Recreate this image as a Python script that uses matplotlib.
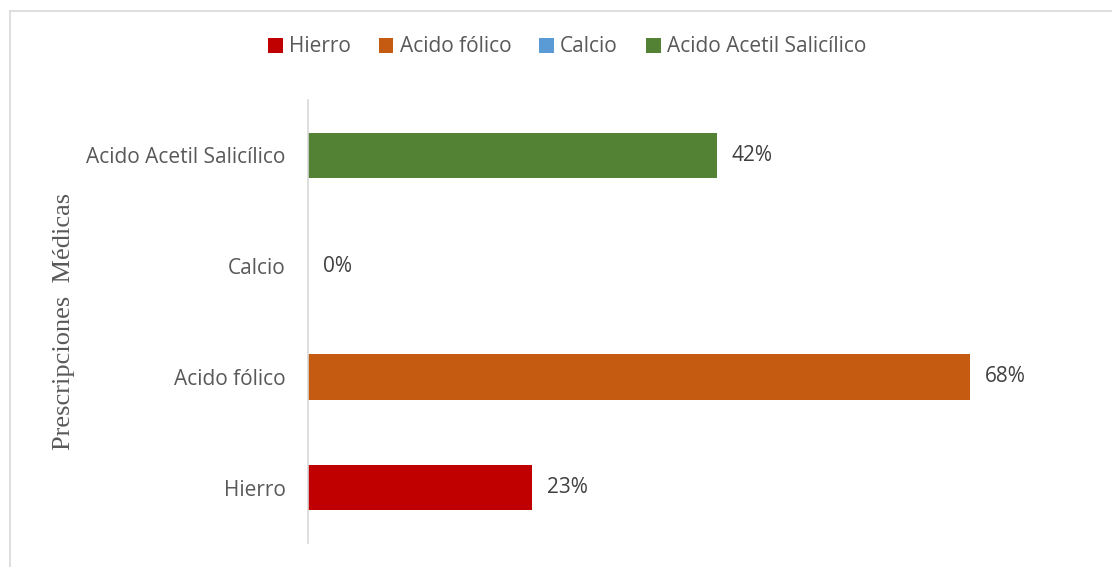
import matplotlib.pyplot as plt
from matplotlib import font_manager as fm
from matplotlib.patches import Patch
from matplotlib.lines import Line2D

# Prescripciones médicas (porcentaje)
categories = ['Hierro', 'Acido fólico', 'Calcio', 'Acido Acetil Salicílico']
values = [23, 68, 0, 42]
colors = ['#C00000', '#C55A11', '#5B9BD5', '#548235']

# pick the regular, normal-width Open Sans file (the family also ships condensed cuts)
sans_file = None
for f in fm.fontManager.ttflist:
    if f.name == 'Open Sans' and f.stretch == 'normal' and f.style == 'normal' and f.weight == 400:
        sans_file = f.fname
        break
fs = 15
if sans_file:
    sans = fm.FontProperties(fname=sans_file, size=fs)
else:
    sans = fm.FontProperties(family='Open Sans', stretch='normal', size=fs)
text_color = '#595959'

fig = plt.figure(figsize=(11.12, 5.67), dpi=100)
ax = fig.add_axes([308 / 1112, 1 - 543 / 567, 779 / 1112, 443 / 567])

pos = range(len(categories))
ax.barh(pos, values, height=0.41, color=colors)
for y, v in zip(pos, values):
    ax.text(v + 1.5, y, f'{v}%', va='center', ha='left', fontproperties=sans, color='#404040')

ax.set_xlim(0, 80)
ax.set_ylim(-0.5, 3.5)
ax.set_yticks(list(pos))
ax.set_yticklabels(categories, fontproperties=sans, color=text_color)
ax.tick_params(axis='y', length=0, pad=16)
ax.set_xticks([])
for side in ['top', 'right', 'bottom']:
    ax.spines[side].set_visible(False)
ax.spines['left'].set_color('#D9D9D9')
ax.spines['left'].set_linewidth(1.2)

fig.text(64 / 1112, 1 - 321 / 567, 'Prescripciones  Médicas', rotation=90,
         va='center', ha='center', fontsize=19, color=text_color,
         family='Liberation Serif')

handles = [Patch(facecolor=c, edgecolor='none') for c in colors]
fig.legend(handles, categories, loc='center', bbox_to_anchor=(0.51, 1 - 47 / 567),
           ncol=4, frameon=False, prop=sans, labelcolor=text_color,
           handlelength=0.7, handleheight=0.7, handletextpad=0.3, columnspacing=1.35)

# chart frame (top and left edges; the rest runs off the image)
x0, y0 = 9.5 / 1112, 1 - 10.5 / 567
fig.add_artist(Line2D([x0, 1.0], [y0, y0], transform=fig.transFigure,
                      color='#D9D9D9', linewidth=1.2))
fig.add_artist(Line2D([x0, x0], [0.0, y0], transform=fig.transFigure,
                      color='#D9D9D9', linewidth=1.2))

fig.savefig('out.png', dpi=100)
